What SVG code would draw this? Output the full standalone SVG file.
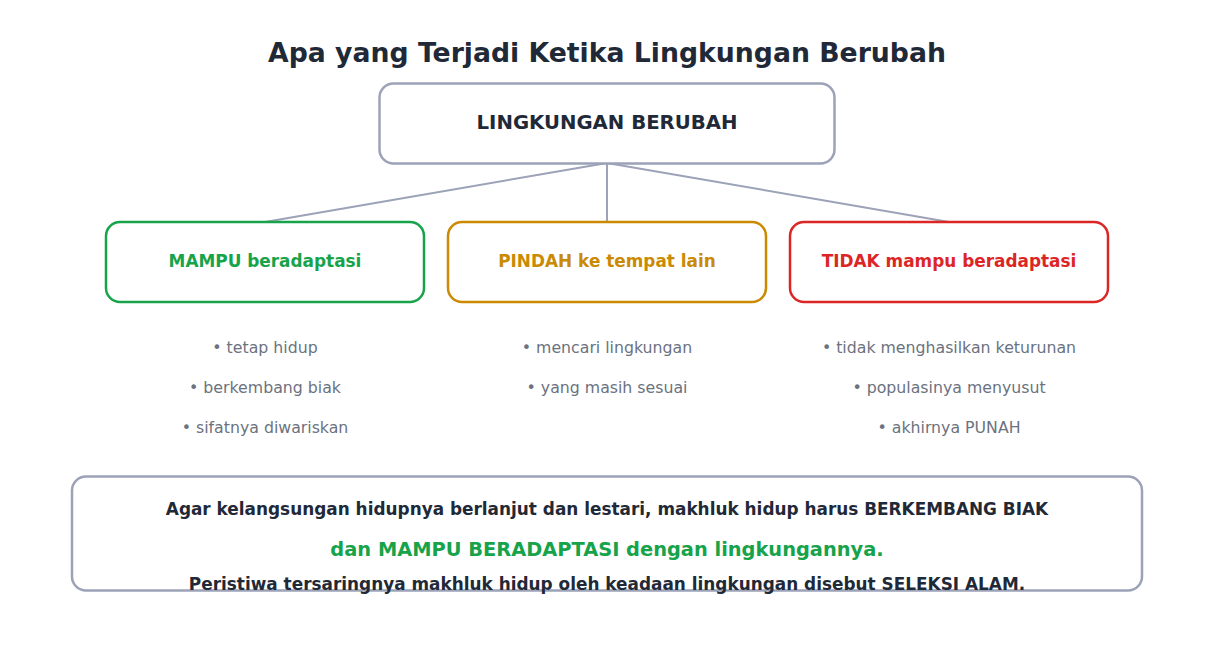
<svg xmlns="http://www.w3.org/2000/svg" width="1214" height="652" viewBox="0 0 1214 652">
<style>
text{font-family:"DejaVu Sans","Liberation Sans",sans-serif;text-anchor:middle}
.t{font-size:26.7px;font-weight:bold;fill:#1f2937}
.h{font-size:19.7px;font-weight:bold;fill:#1f2937}
.n{font-size:16.9px;font-weight:bold}
.b{font-size:15.75px;fill:#6b7280}
.s{font-size:16.9px;font-weight:bold;fill:#1f2937}
.box{fill:#fff;stroke-width:2.5}
.c{stroke:#9ca3b8;stroke-width:2;fill:none}
</style>
<rect width="1214" height="652" fill="#fff"/>
<text class="t" x="607" y="62">Apa yang Terjadi Ketika Lingkungan Berubah</text>
<g id="connectors">
<line class="c" x1="607" y1="163" x2="265" y2="222"/>
<line class="c" x1="607" y1="163" x2="607" y2="222"/>
<line class="c" x1="607" y1="163" x2="949" y2="222"/>
</g>
<g id="root">
<rect class="box" x="379.5" y="83.5" width="455" height="80" rx="14" stroke="#9ca3b8"/>
<text class="h" x="607" y="129">LINGKUNGAN BERUBAH</text>
</g>
<g id="mampu">
<rect class="box" x="106" y="222" width="318" height="80" rx="14" stroke="#16a34a"/>
<text class="n" x="265" y="267" fill="#16a34a">MAMPU beradaptasi</text>
<text class="b" x="265" y="353">• tetap hidup</text>
<text class="b" x="265" y="393">• berkembang biak</text>
<text class="b" x="265" y="433">• sifatnya diwariskan</text>
</g>
<g id="pindah">
<rect class="box" x="448" y="222" width="318" height="80" rx="14" stroke="#ca8a04"/>
<text class="n" x="607" y="267" fill="#ca8a04">PINDAH ke tempat lain</text>
<text class="b" x="607" y="353">• mencari lingkungan</text>
<text class="b" x="607" y="393">• yang masih sesuai</text>
</g>
<g id="tidak">
<rect class="box" x="790" y="222" width="318" height="80" rx="14" stroke="#dc2626"/>
<text class="n" x="949" y="267" fill="#dc2626">TIDAK mampu beradaptasi</text>
<text class="b" x="949" y="353">• tidak menghasilkan keturunan</text>
<text class="b" x="949" y="393">• populasinya menyusut</text>
<text class="b" x="949" y="433">• akhirnya PUNAH</text>
</g>
<g id="summary">
<rect class="box" x="72" y="476.5" width="1070" height="114" rx="14" stroke="#9ca3b8"/>
<text class="s" x="607" y="515">Agar kelangsungan hidupnya berlanjut dan lestari, makhluk hidup harus BERKEMBANG BIAK</text>
<text x="607" y="556" style="font-size:19.4px;font-weight:bold;fill:#16a34a">dan MAMPU BERADAPTASI dengan lingkungannya.</text>
<text class="s" x="607" y="590">Peristiwa tersaringnya makhluk hidup oleh keadaan lingkungan disebut SELEKSI ALAM.</text>
</g>
</svg>
